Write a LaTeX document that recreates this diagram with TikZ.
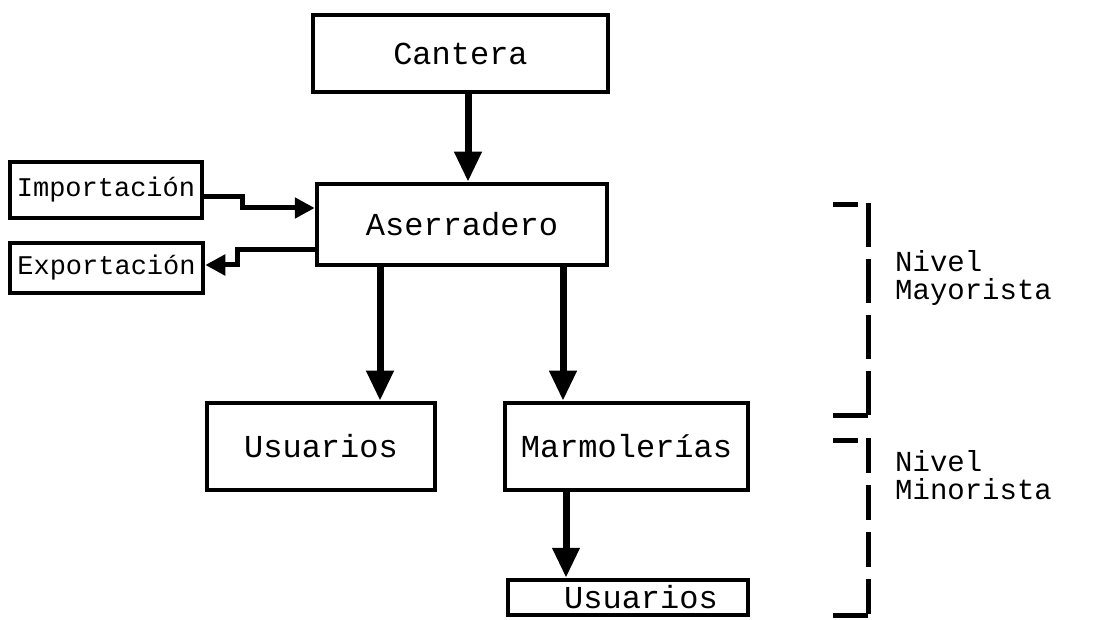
\documentclass[tikz,border=0pt]{standalone}
\usepackage{fontspec}
\setmonofont{Liberation Mono}
\usetikzlibrary{arrows.meta}
\tikzset{
  box/.style={draw, line width=4.5pt, inner sep=0pt, font=\ttfamily\fontsize{32}{32}\selectfont},
  smallbox/.style={box, font=\ttfamily\fontsize{27}{27}\selectfont},
  arr/.style={line width=7pt, -{Triangle[length=30pt,width=26pt]}},
  harr/.style={line width=5pt, -{Triangle[length=20pt,width=20pt]}},
  brk/.style={line width=5pt},
  lbl/.style={font=\ttfamily\fontsize{29}{28}\selectfont, align=left, inner sep=0pt, anchor=north west}
}
\begin{document}
\begin{tikzpicture}[x=1pt,y=-1pt]
\useasboundingbox (0,0) rectangle (1093,620);
\node[box, minimum width=295pt, minimum height=77pt] (can) at (460.5,53.5) {Cantera};
\node[box, minimum width=290pt, minimum height=81pt] (ase) at (462,224.5) {Aserradero};
\node[smallbox, minimum width=192pt, minimum height=56pt] (imp) at (106,190) {Importación};
\node[smallbox, minimum width=193pt, minimum height=50pt] (exp) at (106.5,268) {Exportación};
\node[box, minimum width=228pt, minimum height=87pt] (us1) at (321,446.5) {Usuarios};
\node[box, minimum width=243pt, minimum height=87pt] (mar) at (626.5,446.5) {Marmolerías};
\node[box, minimum width=240pt, minimum height=35pt] (us2) at (628,597.5) {\hspace*{26pt}Usuarios};
% connectors
\draw[arr] ([xshift=7.5pt]can.south) -- ([xshift=7.5pt]can.south |- ase.north);
\draw[harr] ([yshift=-7pt]imp.east) -- ++(38,0) |- ([yshift=16.5pt]ase.west);
\draw[harr] ([yshift=-25.5pt]ase.west) -- ++(-77,0) |- ([yshift=3pt]exp.east);
\draw[arr] ([xshift=-82pt]ase.south) -- ([xshift=-82pt]ase.south |- us1.north);
\draw[arr] ([xshift=101pt]ase.south) -- ([xshift=101pt]ase.south |- mar.north);
\draw[arr] ([xshift=-60.5pt]mar.south) -- ([xshift=-60.5pt]mar.south |- us2.north);
% brackets
\draw[brk] (833,205) -- (858,205);
\draw[brk, dash pattern=on 44pt off 12pt] (868,203) -- (868,415);
\draw[brk] (833,415) -- (868,415);
\draw[brk] (833,440) -- (858,440);
\draw[brk, dash pattern=on 35pt off 12pt] (868,438) -- (868,615);
\draw[brk] (833,615) -- (868,615);
% labels
\node[lbl] (may) at (895,250) {Nivel\\Mayorista};
\node[lbl] (min) at (895,450) {Nivel\\Minorista};
\end{tikzpicture}
\end{document}
